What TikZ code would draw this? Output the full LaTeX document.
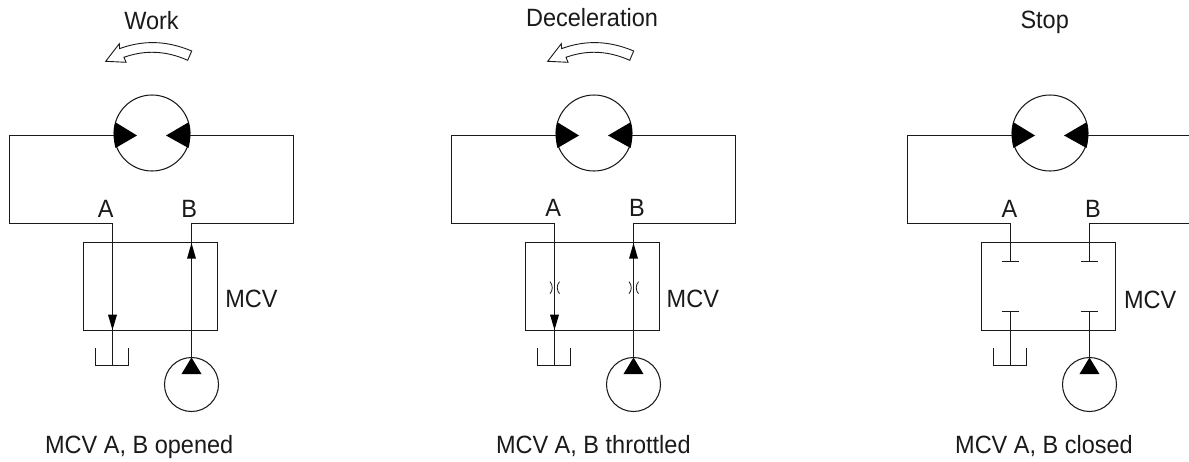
\documentclass[tikz,border=0pt]{standalone}
\usepackage{fontspec}
\setmainfont[FakeStretch=0.94]{Liberation Sans}
\definecolor{ink}{HTML}{1A1A1A}
\tikzset{
  every picture/.style={x=1pt,y=-1pt},
  line/.style={draw=ink,line width=1.05pt,line join=miter},
  thin line/.style={draw=ink,line width=0.8pt},
  solid fill/.style={fill=black,draw=none},
  round sym/.style={circle,draw=ink,line width=1.05pt,inner sep=0pt,outer sep=0pt},
  box sym/.style={rectangle,draw=ink,line width=1.05pt,inner sep=0pt,outer sep=0pt,minimum width=134pt,minimum height=88pt},
  lab/.style={inner sep=0pt,outer sep=0pt,anchor=base,text=ink,font=\fontsize{25}{29}\selectfont},
  turn/.style={draw=ink,line width=0.9pt,fill=white,line join=miter}
}
% common parts of one panel, in the coordinates of panel 1
\newcommand{\panelbase}{%
  \node[round sym,minimum size=76pt] (motor) at (152,133) {};
  \node[box sym] (box) at (150.5,286.5) {};
  \node[round sym,minimum size=54pt] (pump) at (191.5,384.5) {};
  \coordinate (mL) at (114.2,135.5);
  \coordinate (mR) at (189.8,135.5);
  \coordinate (TL) at (9.5,135.5);
  \coordinate (BL) at (9.5,223.5);
  \coordinate (aTop) at (112.5,223.5);
  \coordinate (bTop) at (191.5,223.5);
  \coordinate (bUp) at (191.5,243);
  \coordinate (aLow) at (112.5,330);
  \coordinate (tA) at (95.5,348);
  \coordinate (tB) at (95.5,365.5);
  \coordinate (tC) at (112.5,365.5);
  \coordinate (tD) at (128.5,365.5);
  \coordinate (tE) at (128.5,348);
  \coordinate (pTop) at (191.5,357.5);
  \draw[line] (mL) -- (TL) -- (BL) -- (aTop);
  \draw[line] (tA) -- (tB) -- (tD) -- (tE);
  \path[solid fill] (137,135.5) -- (115.5,122.3) .. controls (113.2,130) and (113.2,140) .. (115.5,148) -- cycle;
  \path[solid fill] (166,135.5) -- (188.5,122.3) .. controls (190.8,130) and (190.8,140) .. (188.5,148) -- cycle;
  \path[solid fill] (pTop) -- (181.4,374.2) -- (201.6,374.2) -- cycle;
}
\newcommand{\turnarrow}{%
  \draw[turn] (105.7,61.3) -- (119.3,43.7) -- (119.6,48.6)
    .. controls (143,40.2) and (166,40.2) .. (191.7,51) -- (187.7,60.3)
    .. controls (166,50.6) and (145,49.8) .. (124,57.3) -- (126,62.3) -- cycle;
}
\newcommand{\downhead}{\path[solid fill] (aLow) -- (108,314.7) -- (117,314.7) -- cycle;}
\newcommand{\uphead}{\path[solid fill] (bUp) -- (187,258.7) -- (196,258.7) -- cycle;}
\begin{document}
\begin{tikzpicture}
\useasboundingbox (0,0) rectangle (1189,461);
\clip (0,0) rectangle (1189,461);
\fill[white] (0,0) rectangle (1189,461);

% Work
\begin{scope}[name prefix=w-]
  \panelbase
  \turnarrow
  \coordinate (TR) at (293.5,135.5);
  \coordinate (BR) at (293.5,223.5);
  \draw[line] (mR) -- (TR) -- (BR) -- (bTop) -- (pTop);
  \draw[line] (aTop) -- (tC);
  \downhead \uphead
  \node[lab] (title) at (151.5,29) {Work};
  \node[lab] (la) at (105.8,217) {A};
  \node[lab] (lb) at (189.2,217) {B};
  \node[lab,anchor=base west] (mcv) at (225.3,307.5) {MCV};
  \node[lab] (cap) at (139.2,453.3) {MCV A, B opened};
\end{scope}

% Deceleration
\begin{scope}[shift={(442,0)},name prefix=d-]
  \panelbase
  \turnarrow
  \coordinate (TR) at (293.5,135.5);
  \coordinate (BR) at (293.5,223.5);
  \draw[line] (mR) -- (TR) -- (BR) -- (bTop) -- (pTop);
  \draw[line] (aTop) -- (tC);
  \downhead \uphead
  \draw[thin line] (108,281.7) .. controls (111,285) and (111,290.4) .. (108,293.7);
  \draw[thin line] (117.5,281.7) .. controls (114.5,285) and (114.5,290.4) .. (117.5,293.7);
  \draw[thin line] (187,281.7) .. controls (190,285) and (190,290.4) .. (187,293.7);
  \draw[thin line] (196.5,281.7) .. controls (193.5,285) and (193.5,290.4) .. (196.5,293.7);
  \node[lab] (title) at (150,26.5) {Deceleration};
  \node[lab] (la) at (111.3,216) {A};
  \node[lab] (lb) at (195,216) {B};
  \node[lab,anchor=base west] (mcv) at (224.7,307.5) {MCV};
  \node[lab] (cap) at (151.3,453.3) {MCV A, B throttled};
\end{scope}

% Stop
\begin{scope}[shift={(898,0)},name prefix=s-]
  \panelbase
  \coordinate (TR) at (292,135.5);
  \coordinate (BR) at (292,223.5);
  \coordinate (aClosed) at (112.5,261.5);
  \coordinate (bClosed) at (191.5,261.5);
  \coordinate (aOpen) at (112.5,311.5);
  \coordinate (bOpen) at (191.5,311.5);
  \draw[line] (mR) -- (TR);
  \draw[line] (BR) -- (bTop) -- (bClosed);
  \draw[line] (aTop) -- (aClosed);
  \draw[line] (aOpen) -- (tC);
  \draw[line] (bOpen) -- (pTop);
  \draw[line] (103.8,261.5) -- (121.2,261.5);
  \draw[line] (182.8,261.5) -- (200.2,261.5);
  \draw[line] (103.8,311.5) -- (121.2,311.5);
  \draw[line] (182.8,311.5) -- (200.2,311.5);
  \node[lab] (title) at (146.7,28.5) {Stop};
  \node[lab] (la) at (111.5,217) {A};
  \node[lab] (lb) at (195,217) {B};
  \node[lab,anchor=base west] (mcv) at (226,308) {MCV};
  \node[lab] (cap) at (146,453.3) {MCV A, B closed};
\end{scope}
\end{tikzpicture}
\end{document}
